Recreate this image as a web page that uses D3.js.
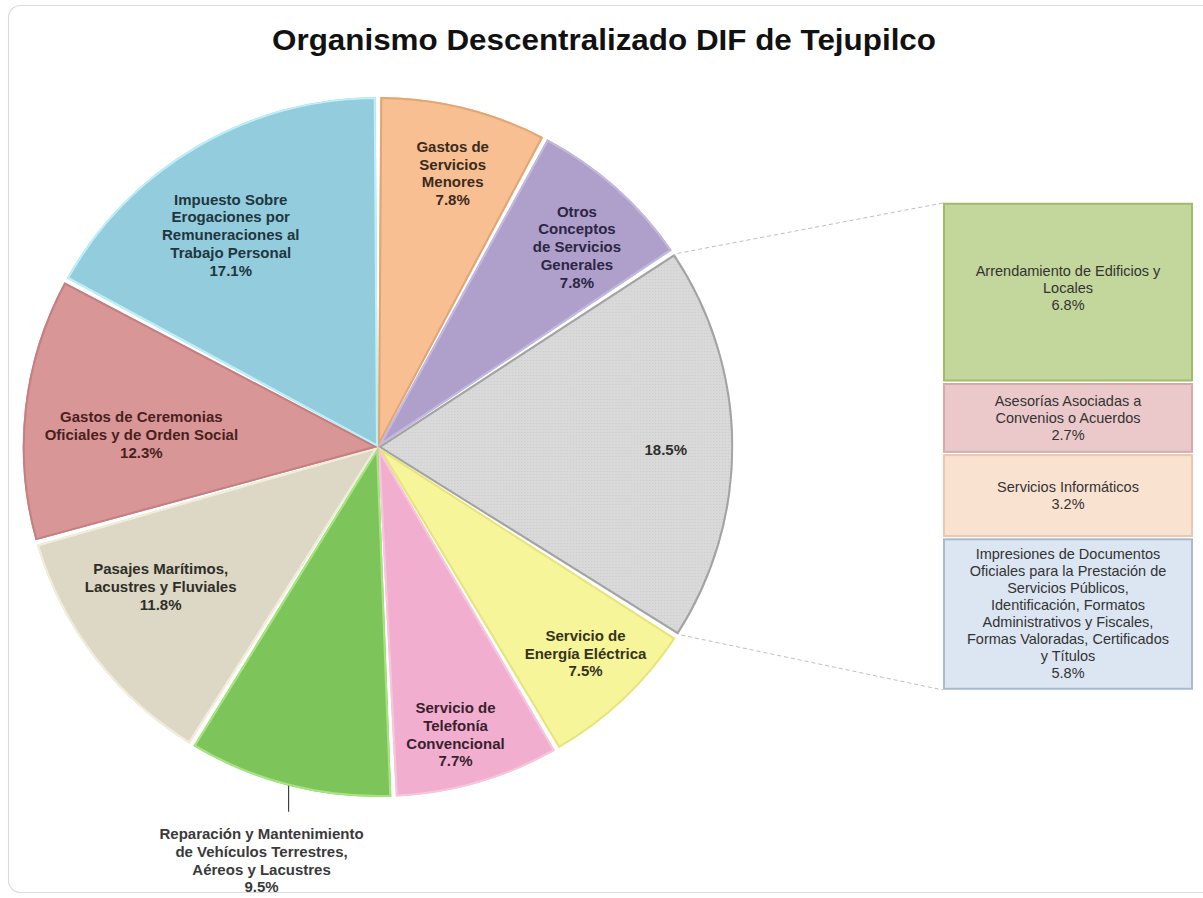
<!DOCTYPE html>
<html>
<head>
<meta charset="utf-8">
<script src="https://cdn.jsdelivr.net/npm/d3@7"></script>
<style>
  html, body { margin: 0; padding: 0; background: #ffffff; }
  svg { display: block; }
</style>
</head>
<body>
<svg id="chart" width="1203" height="898"></svg>
<script>
// ---------------- DATA ----------------
const title = "Organismo Descentralizado DIF de Tejupilco";

const categories = [
  "Gastos de Servicios Menores",
  "Otros Conceptos de Servicios Generales",
  "Otros",
  "Servicio de Energía Eléctrica",
  "Servicio de Telefonía Convencional",
  "Reparación y Mantenimiento de Vehículos Terrestres, Aéreos y Lacustres",
  "Pasajes Marítimos, Lacustres y Fluviales",
  "Gastos de Ceremonias Oficiales y de Orden Social",
  "Impuesto Sobre Erogaciones por Remuneraciones al Trabajo Personal"
];
const values = [7.8, 7.8, 18.5, 7.5, 7.7, 9.5, 11.8, 12.3, 17.1];
const labelLines = [
  ["Gastos  de", "Servicios", "Menores"],
  ["Otros", "Conceptos", "de Servicios", "Generales"],
  [],
  ["Servicio de", "Energía Eléctrica"],
  ["Servicio de", "Telefonía", "Convencional"],
  ["Reparación y Mantenimiento", "de Vehículos Terrestres,", "Aéreos y Lacustres"],
  ["Pasajes Marítimos,", "Lacustres  y Fluviales"],
  ["Gastos  de Ceremonias", "Oficiales y de Orden  Social"],
  ["Impuesto  Sobre", "Erogaciones  por", "Remuneraciones al", "Trabajo Personal"]
];

const barCategories = [
  "Arrendamiento de Edificios y Locales",
  "Asesorías Asociadas a Convenios o Acuerdos",
  "Servicios Informáticos",
  "Impresiones de Documentos Oficiales para la Prestación de Servicios Públicos, Identificación, Formatos Administrativos y Fiscales, Formas Valoradas, Certificados y Títulos"
];
const barValues = [6.8, 2.7, 3.2, 5.8];
const barLabelLines = [
  ["Arrendamiento  de Edificios y", "Locales"],
  ["Asesorías Asociadas a", "Convenios  o Acuerdos"],
  ["Servicios  Informáticos"],
  ["Impresiones  de Documentos", "Oficiales para la Prestación de", "Servicios  Públicos,", "Identificación,  Formatos", "Administrativos  y Fiscales,", "Formas Valoradas, Certificados", "y Títulos"]
];

// ---------------- STYLE / LAYOUT ----------------
const sliceFill = ["#F7BF92", "#AE9FCB", "url(#dots)", "#F7F59A", "#F2AECE", "#7DC55B", "#DDD8C5", "#D99696", "#93CCDC"];
const sliceEdge = ["#E2A673", "#C4B8DE", "#A3A3A3", "#E6E47C", "#F7C6DD", "#A6E480", "#F1EDDA", "#C67F80", "#BDEFF8"];
const sliceText = ["#3b2a1e", "#2d2644", "#2e2e2e", "#35341c", "#3a1f2e", "#3a3a3a", "#2f2f2a", "#4a1f20", "#1f3640"];
const labelRadius = [0.81, 0.80, 0.81, 0.83, 0.85, 1.0, 0.73, 0.667, 0.734];
const labelAngleShift = [1, 2.3, 1, -1, 1.5, 0, 4, -3.3, -3.6];
const barFill = ["#C3D69B", "#EBC9CA", "#FAE2D0", "#DCE6F2"];
const barEdge = ["#A3BC6C", "#D6A9AB", "#E8C8AE", "#A9B9CD"];

const W = 1203, H = 898;
const cx = 378, cy = 447, R = 350, sx = 1.015;

const svg = d3.select("#chart");
const defs = svg.append("defs");

const pat = defs.append("pattern").attr("id", "dots")
  .attr("width", 3).attr("height", 3).attr("patternUnits", "userSpaceOnUse");
pat.append("rect").attr("width", 3).attr("height", 3).attr("fill", "#D9D9D9");
pat.append("rect").attr("x", 0).attr("y", 0).attr("width", 1).attr("height", 1).attr("fill", "#CBCBCB");

// frame
svg.append("rect").attr("x", 8.5).attr("y", 5.5).attr("width", 1210).attr("height", 887)
  .attr("rx", 12).attr("fill", "#fff").attr("stroke", "#DCDCDC").attr("stroke-width", 1.2);

// title
svg.append("text").attr("x", 604).attr("y", 50)
  .attr("text-anchor", "middle")
  .attr("font-family", "'Liberation Sans', Arial, sans-serif")
  .attr("font-weight", "bold").attr("font-size", 30)
  .attr("fill", "#111")
  .attr("textLength", 664).attr("lengthAdjust", "spacingAndGlyphs")
  .text(title);

// ---------------- PIE ----------------
const pie = d3.pie().sort(null).value(d => d)(values);
const arc = d3.arc().innerRadius(0).outerRadius(R).padAngle(0.013).padRadius(R);

const g = svg.append("g").attr("transform", `translate(${cx},${cy}) scale(${sx},1)`);

pie.forEach((p, i) => {
  defs.append("clipPath").attr("id", "clip" + i).append("path").attr("d", arc(p));
});

const slices = g.selectAll("g.slice").data(pie).join("g").attr("class", "slice");
slices.append("path").attr("d", arc).attr("fill", (d, i) => sliceFill[i]);
slices.append("path").attr("d", arc).attr("fill", "none")
  .attr("stroke", (d, i) => sliceEdge[i]).attr("stroke-width", 4)
  .attr("clip-path", (d, i) => `url(#clip${i})`);

// labels
const fmt = v => v.toFixed(1) + "%";
const lh = 17.8;
const labelG = svg.append("g")
  .attr("font-family", "'Liberation Sans', Arial, sans-serif")
  .attr("font-weight", "bold").attr("font-size", 15);

function polar(angle, r) {
  return [cx + sx * r * Math.sin(angle), cy - r * Math.cos(angle)];
}

pie.forEach((p, i) => {
  const mid = (p.startAngle + p.endAngle) / 2 + labelAngleShift[i] * Math.PI / 180;
  const lines = labelLines[i].concat([fmt(values[i])]);
  if (i === 5) {
    // outside label with vertical leader
    const [x0, y0] = polar(mid, R * labelRadius[i]);
    const y1 = y0 + 26;
    svg.append("line").attr("x1", x0).attr("y1", y0).attr("x2", x0).attr("y2", y1)
      .attr("stroke", "#404040").attr("stroke-width", 1.2);
    const t = labelG.append("text").attr("text-anchor", "middle").attr("fill", sliceText[i]);
    lines.forEach((l, k) => {
      t.append("tspan").attr("x", x0 - 27).attr("y", y1 + 22 + k * lh).attr("dy", "0.35em").text(l);
    });
    return;
  }
  const [x, y] = polar(mid, R * labelRadius[i]);
  const t = labelG.append("text").attr("text-anchor", "middle").attr("fill", sliceText[i]);
  const n = lines.length;
  lines.forEach((l, k) => {
    t.append("tspan").attr("x", x).attr("y", y + (k - (n - 1) / 2) * lh).attr("dy", "0.35em").text(l);
  });
});

// ---------------- BAR ----------------
const barX = 943, barW = 250;
const yBar = d3.scaleLinear().domain([0, d3.sum(barValues)]).range([203, 690]);
let cum = 0;
const barData = barValues.map((v, i) => {
  const d = { i, v, y0: cum, y1: cum + v };
  cum += v;
  return d;
});

// connector lines (from the split edges of the "Otros" slice)
const otros = pie[2];
const pTop = polar(otros.startAngle + 0.01, R + 3);
const pBot = polar(otros.endAngle - 0.01, R + 3);
svg.append("line").attr("x1", pTop[0]).attr("y1", pTop[1]).attr("x2", barX).attr("y2", yBar(0))
  .attr("stroke", "#BFBFBF").attr("stroke-width", 1).attr("stroke-dasharray", "4,3");
svg.append("line").attr("x1", pBot[0]).attr("y1", pBot[1]).attr("x2", barX).attr("y2", yBar(cum))
  .attr("stroke", "#BFBFBF").attr("stroke-width", 1).attr("stroke-dasharray", "4,3");

const bars = svg.append("g");
bars.selectAll("rect").data(barData).join("rect")
  .attr("x", barX + 1).attr("width", barW - 2)
  .attr("y", d => yBar(d.y0) + (d.i === 0 ? 0.75 : 2))
  .attr("height", d => yBar(d.y1) - yBar(d.y0) - (d.i === 0 ? 2.25 : 3.25))
  .attr("fill", d => barFill[d.i])
  .attr("stroke", d => barEdge[d.i]).attr("stroke-width", 2);

const blh = 17;
const barText = svg.append("g")
  .attr("font-family", "'Liberation Sans', Arial, sans-serif")
  .attr("font-size", 14.5).attr("fill", "#333");
barData.forEach(d => {
  const lines = barLabelLines[d.i].concat([fmt(d.v)]);
  const n = lines.length;
  const ym = (yBar(d.y0) + yBar(d.y1)) / 2 - (d.i === 0 ? 5 : 0);
  const t = barText.append("text").attr("text-anchor", "middle");
  lines.forEach((l, k) => {
    t.append("tspan").attr("x", barX + barW / 2).attr("y", ym + (k - (n - 1) / 2) * blh).attr("dy", "0.35em").text(l);
  });
});
</script>
</body>
</html>
